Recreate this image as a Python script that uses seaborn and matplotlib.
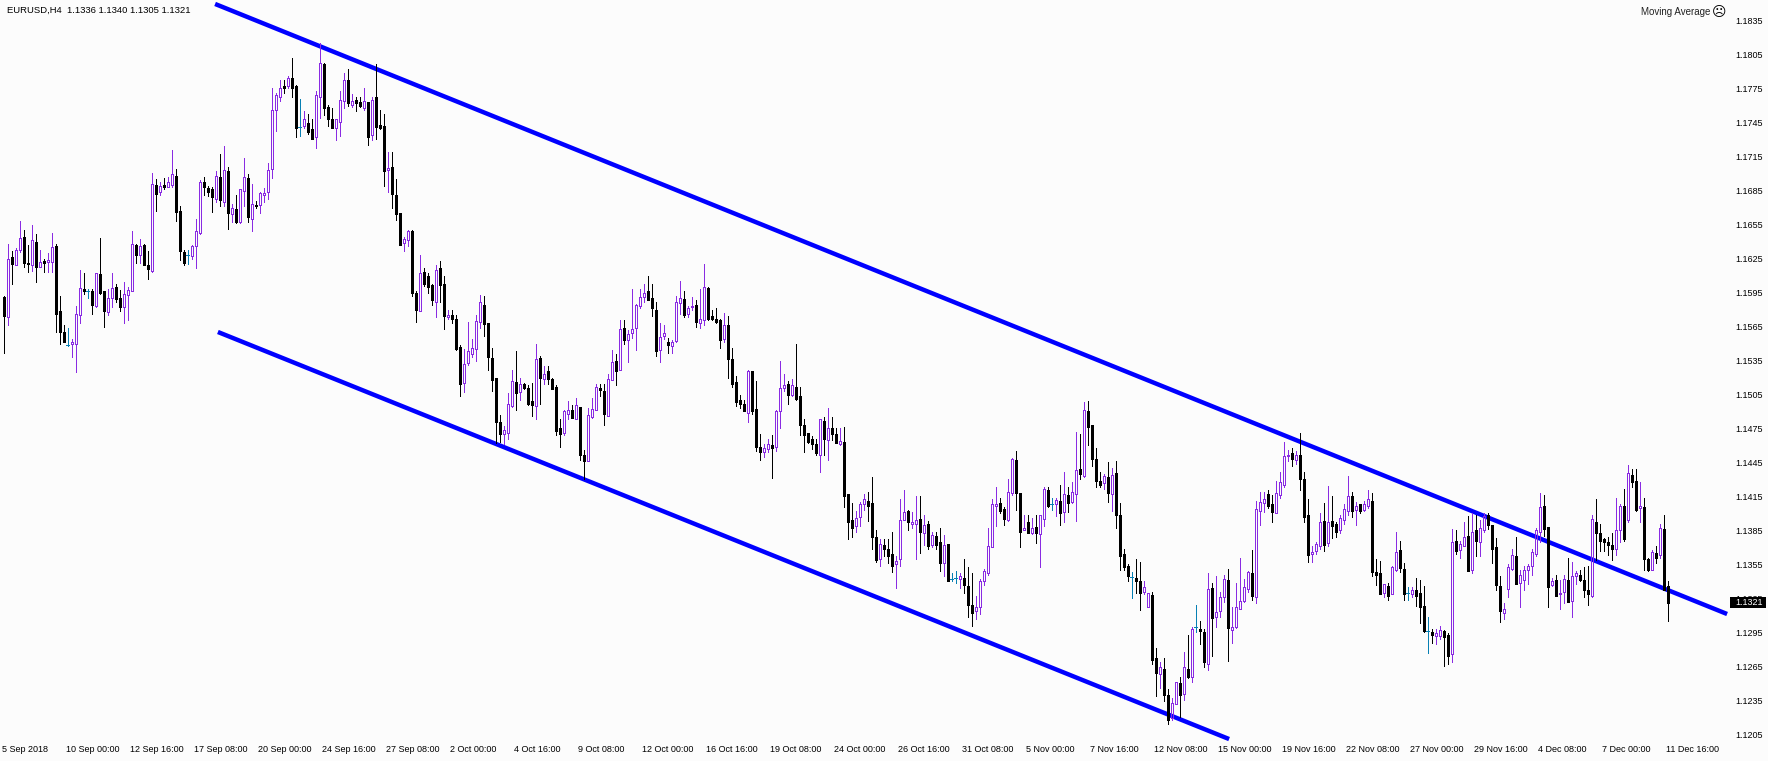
import numpy as np
import pandas as pd
import seaborn as sns
import matplotlib
matplotlib.use("Agg")
import matplotlib.pyplot as plt
from matplotlib.patches import Rectangle

# EURUSD H4 bars, prices in 1/10000 (11591 = 1.1591)
opens = [
    11591,11573,11626,11619,11633,11644,11621,11619,11640,11618,11623,11622,11622,11636,11579,11560,11549,11550,11550,11575,11598,11596,11596,11583,11611,
    11596,11578,11590,11600,11590,11582,11593,11596,11637,11628,11637,11619,11614,11690,11684,11690,11688,11690,11698,11667,11631,11628,11627,11636,11648,
    11693,11687,11686,11678,11697,11675,11702,11664,11669,11657,11685,11696,11660,11672,11672,11681,11684,11704,11756,11768,11777,11777,11784,11777,11741,
    11742,11745,11739,11732,11768,11797,11759,11748,11740,11746,11764,11783,11761,11765,11763,11758,11763,11734,11768,11743,11742,11703,11706,11681,11665,
    11639,11641,11649,11595,11579,11613,11610,11602,11587,11617,11603,11573,11575,11572,11547,11515,11533,11541,11545,11569,11584,11568,11537,11520,11481,
    11470,11471,11495,11516,11507,11514,11511,11499,11495,11537,11519,11526,11519,11512,11475,11471,11488,11491,11483,11494,11452,11446,11485,11491,11511,
    11508,11486,11518,11535,11527,11564,11553,11559,11564,11583,11591,11596,11590,11580,11544,11557,11551,11548,11552,11586,11589,11576,11582,11584,11568,
    11571,11599,11574,11572,11571,11554,11566,11536,11516,11500,11497,11489,11526,11492,11459,11454,11457,11460,11459,11490,11511,11514,11505,11512,11504,
    11478,11471,11466,11461,11452,11482,11465,11475,11470,11461,11463,11417,11394,11389,11397,11408,11411,11409,11379,11360,11372,11369,11364,11355,11360,
    11394,11402,11391,11391,11395,11383,11391,11372,11380,11375,11356,11373,11342,11343,11342,11343,11336,11319,11314,11317,11340,11347,11370,11407,11409,
    11404,11394,11418,11447,11418,11385,11392,11383,11388,11382,11395,11421,11408,11408,11411,11401,11416,11410,11417,11439,11433,11490,11478,11448,11429,
    11427,11432,11417,11436,11399,11364,11354,11344,11343,11340,11331,11317,11328,11272,11258,11263,11240,11219,11232,11250,11241,11263,11256,11300,11298,
    11295,11267,11334,11309,11314,11326,11341,11297,11300,11316,11323,11333,11347,11326,11402,11409,11417,11408,11400,11416,11425,11451,11453,11447,11452,
    11430,11399,11364,11367,11371,11393,11374,11393,11391,11385,11394,11402,11415,11403,11408,11403,11407,11411,11348,11347,11330,11336,11329,11350,11368,
    11351,11330,11329,11332,11330,11318,11296,11295,11292,11292,11296,11293,11276,11376,11368,11371,11380,11350,11385,11375,11385,11399,11390,11370,11336,
    11312,11333,11351,11362,11339,11341,11350,11354,11364,11384,11407,11388,11337,11341,11329,11331,11341,11323,11345,11346,11341,11332,11327,11392,11383,
    11377,11375,11372,11369,11385,11407,11394,11434,11429,11405,11406,11360,11350,11365,11363,11386,11336,
]
highs = [
    11592,11638,11632,11634,11658,11650,11637,11655,11647,11633,11625,11630,11648,11638,11592,11566,11564,11554,11583,11615,11612,11598,11598,11612,11643,
    11596,11598,11612,11603,11597,11604,11600,11649,11638,11642,11638,11632,11701,11695,11693,11696,11697,11721,11704,11671,11633,11633,11637,11660,11694,
    11697,11689,11688,11702,11717,11724,11706,11673,11681,11686,11714,11700,11691,11676,11684,11687,11709,11776,11771,11783,11783,11786,11802,11778,11766,
    11755,11753,11748,11773,11815,11798,11761,11758,11748,11773,11789,11792,11770,11768,11768,11776,11763,11768,11797,11756,11753,11719,11719,11695,11665,
    11644,11650,11650,11596,11628,11617,11612,11603,11619,11623,11610,11580,11580,11575,11549,11545,11569,11554,11575,11593,11592,11568,11546,11520,11487,
    11477,11506,11527,11543,11520,11515,11513,11515,11550,11539,11530,11530,11520,11513,11483,11491,11499,11496,11502,11494,11456,11493,11502,11514,11514,
    11514,11523,11544,11541,11571,11571,11562,11598,11585,11598,11603,11610,11603,11587,11568,11566,11555,11553,11592,11605,11596,11583,11591,11588,11598,
    11620,11600,11580,11581,11572,11577,11574,11546,11521,11505,11500,11527,11526,11517,11470,11461,11466,11469,11491,11535,11523,11517,11519,11550,11512,
    11483,11471,11468,11466,11483,11485,11493,11485,11475,11475,11476,11417,11409,11402,11410,11417,11419,11432,11385,11377,11377,11377,11384,11362,11413,
    11421,11403,11401,11415,11415,11399,11393,11384,11384,11387,11381,11373,11347,11349,11347,11360,11353,11347,11327,11342,11351,11387,11413,11423,11414,
    11406,11430,11449,11455,11418,11399,11399,11396,11399,11399,11423,11423,11414,11414,11425,11437,11423,11428,11472,11470,11498,11499,11478,11458,11437,
    11435,11445,11440,11446,11409,11369,11355,11348,11360,11357,11340,11330,11331,11281,11269,11272,11245,11237,11251,11256,11278,11293,11300,11319,11305,
    11298,11347,11339,11345,11331,11346,11351,11317,11339,11361,11342,11349,11368,11411,11419,11419,11421,11416,11429,11437,11463,11456,11458,11455,11471,
    11437,11413,11371,11375,11400,11409,11424,11415,11392,11399,11408,11433,11419,11410,11408,11411,11421,11418,11360,11358,11338,11339,11354,11384,11376,
    11356,11335,11335,11343,11341,11336,11309,11298,11298,11301,11297,11294,11386,11385,11376,11392,11398,11400,11399,11394,11400,11400,11390,11378,11345,
    11321,11355,11369,11379,11350,11354,11355,11369,11387,11418,11416,11388,11343,11346,11341,11346,11361,11357,11349,11350,11353,11354,11399,11413,11391,
    11378,11379,11383,11414,11408,11422,11443,11439,11439,11428,11414,11361,11368,11371,11391,11399,11340,
]
lows = [
    11542,11566,11603,11619,11631,11618,11613,11614,11604,11618,11613,11613,11613,11560,11550,11551,11548,11538,11525,11568,11594,11590,11576,11582,11594,
    11565,11575,11582,11587,11579,11568,11571,11596,11621,11621,11619,11607,11613,11667,11681,11686,11688,11688,11658,11624,11619,11620,11625,11617,11647,
    11681,11680,11666,11675,11671,11671,11651,11657,11656,11656,11671,11657,11649,11670,11665,11675,11678,11696,11738,11764,11771,11776,11768,11732,11733,
    11740,11735,11731,11723,11749,11752,11742,11740,11730,11733,11758,11760,11759,11755,11759,11756,11725,11730,11731,11739,11689,11684,11670,11659,11637,
    11632,11636,11592,11569,11579,11601,11595,11584,11573,11587,11563,11572,11568,11544,11504,11507,11531,11538,11535,11564,11557,11527,11508,11462,11463,
    11461,11466,11494,11491,11500,11510,11496,11486,11483,11497,11514,11514,11510,11469,11459,11469,11483,11484,11483,11447,11430,11446,11484,11491,11504,
    11478,11486,11518,11513,11527,11550,11534,11555,11544,11581,11587,11588,11574,11539,11534,11554,11542,11542,11551,11576,11573,11573,11580,11565,11564,
    11566,11571,11571,11568,11546,11551,11520,11512,11495,11493,11490,11481,11488,11455,11447,11450,11454,11431,11455,11475,11508,11497,11504,11500,11469,
    11454,11462,11457,11452,11437,11452,11447,11465,11462,11460,11406,11377,11379,11384,11389,11403,11393,11369,11357,11354,11362,11356,11348,11334,11354,
    11394,11385,11387,11360,11365,11372,11369,11370,11369,11349,11345,11340,11340,11339,11334,11330,11309,11301,11307,11311,11337,11346,11370,11389,11400,
    11390,11393,11416,11403,11370,11385,11383,11382,11374,11353,11389,11406,11403,11398,11390,11392,11401,11409,11393,11430,11432,11460,11442,11423,11423,
    11422,11410,11402,11387,11350,11350,11340,11325,11330,11315,11329,11317,11267,11239,11246,11234,11214,11218,11232,11220,11235,11255,11251,11295,11285,
    11264,11262,11274,11300,11309,11322,11270,11286,11299,11316,11322,11331,11324,11321,11390,11401,11405,11392,11400,11414,11423,11446,11442,11444,11421,
    11392,11357,11357,11364,11369,11367,11371,11378,11379,11383,11391,11399,11397,11390,11400,11402,11405,11345,11337,11329,11326,11324,11329,11349,11348,
    11324,11324,11326,11318,11303,11295,11277,11286,11285,11289,11265,11267,11269,11364,11361,11371,11349,11347,11362,11362,11384,11386,11356,11332,11304,
    11307,11326,11350,11338,11317,11332,11338,11346,11362,11375,11380,11317,11336,11327,11316,11321,11322,11309,11338,11340,11326,11319,11326,11359,11367,
    11367,11363,11359,11363,11375,11376,11392,11423,11402,11392,11350,11349,11350,11356,11361,11332,11305,
]
closes = [
    11574,11625,11620,11633,11643,11621,11620,11641,11618,11622,11621,11624,11635,11576,11560,11551,11549,11551,11576,11599,11596,11596,11584,11612,11595,
    11579,11590,11599,11589,11582,11594,11597,11638,11628,11636,11619,11616,11691,11682,11689,11688,11693,11700,11666,11632,11621,11628,11636,11649,11693,
    11688,11684,11679,11698,11677,11703,11665,11670,11657,11686,11697,11662,11673,11671,11683,11683,11703,11756,11769,11776,11776,11784,11776,11740,11741,
    11748,11737,11731,11769,11798,11758,11748,11740,11748,11765,11783,11762,11764,11762,11760,11764,11732,11765,11741,11740,11702,11705,11682,11664,11637,
    11642,11649,11595,11580,11612,11603,11600,11588,11615,11602,11574,11575,11572,11545,11514,11532,11543,11546,11570,11587,11567,11538,11518,11481,11470,
    11474,11497,11517,11506,11514,11511,11497,11496,11536,11520,11523,11519,11510,11473,11470,11490,11491,11484,11496,11452,11446,11487,11492,11512,11509,
    11488,11519,11534,11526,11563,11553,11558,11563,11584,11591,11595,11588,11581,11543,11556,11559,11549,11551,11587,11590,11575,11581,11583,11569,11572,
    11600,11572,11572,11569,11553,11566,11536,11514,11498,11497,11490,11526,11490,11459,11454,11458,11461,11458,11490,11511,11513,11505,11513,11501,11478,
    11469,11463,11461,11453,11483,11466,11475,11470,11462,11464,11415,11392,11387,11396,11408,11413,11407,11379,11359,11373,11369,11362,11354,11358,11394,
    11401,11392,11392,11394,11384,11390,11371,11381,11372,11356,11372,11340,11342,11343,11345,11337,11319,11312,11317,11340,11349,11371,11408,11408,11402,
    11395,11419,11448,11418,11384,11387,11383,11387,11383,11399,11422,11407,11408,11412,11400,11417,11409,11419,11438,11435,11491,11476,11448,11429,11425,
    11433,11418,11434,11399,11362,11353,11345,11344,11340,11330,11335,11330,11271,11259,11264,11240,11218,11233,11251,11240,11264,11256,11298,11300,11296,
    11269,11333,11308,11313,11326,11342,11299,11300,11317,11323,11335,11348,11327,11404,11410,11413,11407,11401,11418,11428,11451,11452,11448,11452,11430,
    11397,11363,11366,11373,11392,11372,11392,11389,11384,11396,11404,11415,11402,11407,11402,11408,11413,11348,11346,11329,11338,11327,11353,11366,11352,
    11329,11330,11332,11327,11317,11296,11296,11293,11294,11297,11291,11274,11375,11367,11373,11379,11349,11384,11376,11387,11398,11390,11369,11337,11314,
    11316,11353,11363,11338,11346,11350,11354,11366,11385,11406,11386,11335,11340,11327,11330,11342,11322,11345,11347,11341,11332,11329,11395,11383,11376,
    11375,11372,11369,11385,11407,11377,11436,11428,11403,11407,11360,11350,11366,11361,11387,11332,11321,
]

# Channel lines: bar number and price at both ends
upper_bars = [52.9, 430.9]
upper_prices = [1.18498, 1.13112]
lower_bars = [53.6, 306.4]
lower_prices = [1.15602, 1.12008]

date_labels = ["5 Sep 2018", "10 Sep 00:00", "12 Sep 16:00", "17 Sep 08:00", "20 Sep 00:00", "24 Sep 16:00",
               "27 Sep 08:00", "2 Oct 00:00", "4 Oct 16:00", "9 Oct 08:00", "12 Oct 00:00", "16 Oct 16:00",
               "19 Oct 08:00", "24 Oct 00:00", "26 Oct 16:00", "31 Oct 08:00", "5 Nov 00:00", "7 Nov 16:00",
               "12 Nov 08:00", "15 Nov 00:00", "19 Nov 16:00", "22 Nov 08:00", "27 Nov 00:00", "29 Nov 16:00",
               "4 Dec 08:00", "7 Dec 00:00", "11 Dec 16:00"]
price_ticks = [1.1835, 1.1805, 1.1775, 1.1745, 1.1715, 1.1685, 1.1655, 1.1625, 1.1595, 1.1565, 1.1535,
               1.1505, 1.1475, 1.1445, 1.1415, 1.1385, 1.1355, 1.1325, 1.1295, 1.1265, 1.1235, 1.1205]

BG = "#FCFCFC"
UP = "#8A2BE2"
DOWN = "#000000"
DOJI = "#0780B4"
BLUE = "#0000FF"

sns.set_theme(style="white")
plt.rcParams['font.family'] = ['Liberation Sans', 'DejaVu Sans']

df = pd.DataFrame({"open": opens, "high": highs, "low": lows, "close": closes}) / 10000
df["bar"] = np.arange(len(df))
up = df[df["close"] > df["open"]]
down = df[df["close"] < df["open"]]
doji = df[df["close"] == df["open"]]

channels = pd.DataFrame({
    "line": ["upper", "upper", "lower", "lower"],
    "bar": upper_bars + lower_bars,
    "price": upper_prices + lower_prices,
})

fig = plt.figure(figsize=(17.68, 7.61), dpi=100, facecolor=BG)
ax = fig.add_axes([0, 19 / 761, 1730 / 1768, 742 / 761], facecolor=BG)

# channel goes under the candles
sns.lineplot(data=channels, x="bar", y="price", units="line", estimator=None, color=BLUE,
             linewidth=3.2, legend=False, ax=ax, zorder=1.5, solid_capstyle="butt")

# wicks, up candles are hollow so their wick stops at the body
ax.vlines(up["bar"], up["low"], up["open"], colors=UP, linewidth=0.72, antialiased=False, zorder=2)
ax.vlines(up["bar"], up["close"], up["high"], colors=UP, linewidth=0.72, antialiased=False, zorder=2)
ax.vlines(down["bar"], down["low"], down["high"], colors=DOWN, linewidth=0.72, antialiased=False, zorder=2)
ax.vlines(doji["bar"], doji["low"], doji["high"], colors=DOJI, linewidth=0.72, antialiased=False, zorder=2)

# bodies
ax.bar(up["bar"], up["close"] - up["open"], bottom=up["open"], width=0.5,
       facecolor="none", edgecolor=UP, linewidth=0.72, antialiased=False, zorder=3)
ax.bar(down["bar"], down["open"] - down["close"], bottom=down["close"], width=0.5,
       facecolor=DOWN, edgecolor=DOWN, linewidth=0.72, antialiased=False, zorder=3)
ax.hlines(doji["open"], doji["bar"] - 0.375, doji["bar"] + 0.375, colors=DOJI, linewidth=0.72,
          antialiased=False, zorder=3)

ax.set_xlim(-0.875, 431.625)
ax.set_ylim(1.11982, 1.18533)
ax.set_xlabel("")
ax.set_ylabel("")
sns.despine(ax=ax, left=True, bottom=True)

ax.set_xticks(np.arange(len(date_labels)) * 16 - 0.3)
ax.set_xticklabels(date_labels, ha="left")
ax.yaxis.tick_right()
ax.set_yticks(price_ticks)
ax.set_yticklabels([f"{p:.4f}" for p in price_ticks])
ax.tick_params(axis="x", length=0, pad=2.5, labelsize=6.5, labelcolor="black")
ax.tick_params(axis="y", length=0, pad=3.6, labelsize=6.5, labelcolor="black")

# header, indicator name, current price box
fig.text(7 / 1768, 1 - 10.5 / 761, "EURUSD,H4  1.1336 1.1340 1.1305 1.1321", fontsize=6.8, color="black", va="center")
fig.text(1710 / 1768, 1 - 12 / 761, "Moving Average", fontsize=7, color="#222222", va="center", ha="right")
fig.text(1712 / 1768, 1 - 12 / 761, "\u2639", fontsize=10, color="black", va="center", family="DejaVu Sans")
ax.add_patch(Rectangle((1.0, 1.1321 - 0.00048), 36 / 1730, 0.00097, transform=ax.get_yaxis_transform(),
                       facecolor="black", edgecolor="none", clip_on=False, zorder=5))
ax.text(1 + 5 / 1730, 1.1321, "1.1321", transform=ax.get_yaxis_transform(), fontsize=6.5, color="white",
        va="center", ha="left", clip_on=False, zorder=6)

fig.savefig("out.png", dpi=100, facecolor=BG)
